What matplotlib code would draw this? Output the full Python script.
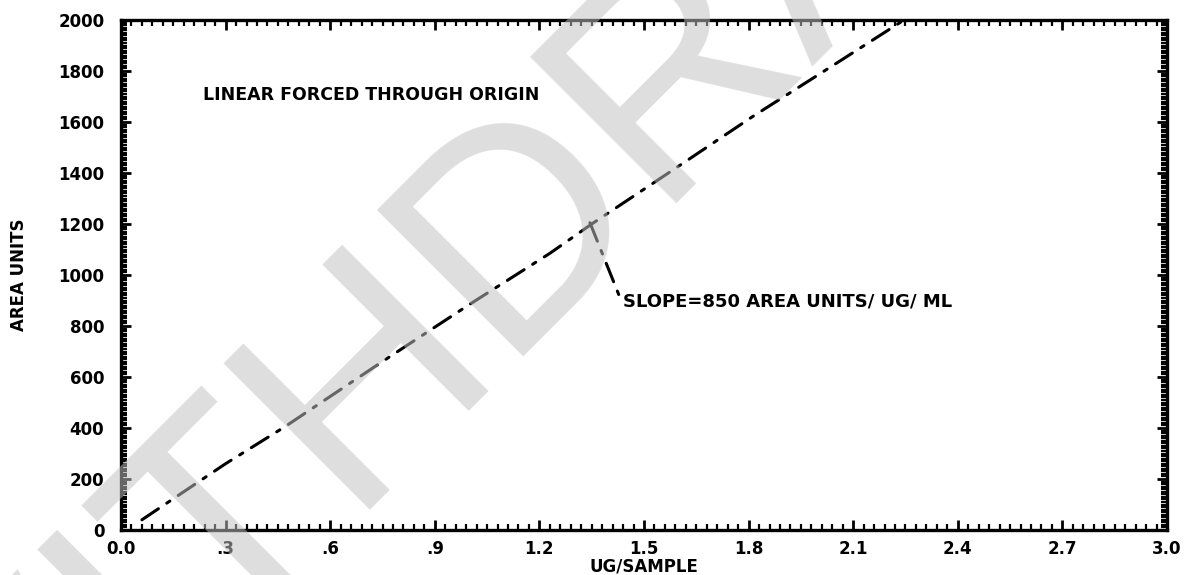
import matplotlib
matplotlib.use("Agg")
import matplotlib.pyplot as plt
from matplotlib.ticker import MultipleLocator, FixedLocator

# ---- data ----
conc = [0.06, 0.30, 0.47, 0.76, 1.00, 1.23, 1.35, 1.57, 1.81, 2.04, 2.24]
area = [40, 260, 405, 670, 885, 1085, 1200, 1400, 1620, 1820, 1995]

x_ticks = [0.0, 0.3, 0.6, 0.9, 1.2, 1.5, 1.8, 2.1, 2.4, 2.7, 3.0]
x_tick_labels = ["0.0", ".3", ".6", ".9", "1.2", "1.5", "1.8", "2.1", "2.4", "2.7", "3.0"]
y_ticks = [0, 200, 400, 600, 800, 1000, 1200, 1400, 1600, 1800, 2000]
y_tick_labels = ["0", "200", "400", "600", "800", "1000", "1200", "1400", "1600", "1800", "2000"]

title_text = "LINEAR FORCED THROUGH ORIGIN"
slope_text = "SLOPE=850 AREA UNITS/ UG/ ML"
leader_x = [1.345, 1.43]
leader_y = [1205, 915]

FONT = dict(family="DejaVu Sans", weight="bold")

fig = plt.figure(figsize=(11.99, 5.75), dpi=100)
fig.patch.set_facecolor("white")
ax = fig.add_axes([121 / 1199, 1 - 530 / 575, (1167 - 121) / 1199, (530 - 20) / 575])

ax.plot(conc, area, color="black", lw=2.2, dashes=(6.5, 3.3, 1.2, 3.3),
        dash_capstyle="round", zorder=3)
ax.plot(leader_x, leader_y, color="black", lw=2.2, dashes=(6.5, 3.3, 1.2, 3.3),
        dash_capstyle="round", zorder=3)

ax.text(0.235, 1706, title_text, ha="left", va="center", size=12.5, **FONT)
ax.text(1.44, 898, slope_text, ha="left", va="center", size=13, **FONT)

ax.set_xlim(0, 3.0)
ax.set_ylim(0, 2000)
ax.xaxis.set_major_locator(FixedLocator(x_ticks))
ax.set_xticklabels(x_tick_labels)
ax.yaxis.set_major_locator(FixedLocator(y_ticks))
ax.set_yticklabels(y_tick_labels)
ax.xaxis.set_minor_locator(MultipleLocator(0.03))
ax.yaxis.set_minor_locator(MultipleLocator(10))

ax.tick_params(which="both", direction="in", top=True, right=True, color="black")
ax.tick_params(which="major", length=7, width=2)
ax.tick_params(which="minor", length=4, width=1.6)
ax.tick_params(axis="y", which="major", pad=12)
ax.tick_params(axis="x", which="major", pad=7)
for lab in ax.get_xticklabels() + ax.get_yticklabels():
    lab.set_fontfamily("DejaVu Sans")
    lab.set_fontweight("bold")
    lab.set_fontsize(12)

for sp in ax.spines.values():
    sp.set_linewidth(2.4)
    sp.set_color("black")

ax.set_xlabel("UG/SAMPLE", labelpad=0, size=12, **FONT)
ax.set_ylabel("AREA UNITS", labelpad=22, size=12, **FONT)

# watermark
fig.text(-35 / 1199, 1 - 914 / 575, "WITHDRAWN", rotation=45, rotation_mode="anchor",
         ha="left", va="baseline", fontsize=216, family="Liberation Sans",
         color=(0.757, 0.757, 0.757), alpha=0.53, zorder=10)

fig.savefig("out.png", dpi=100, facecolor="white")
